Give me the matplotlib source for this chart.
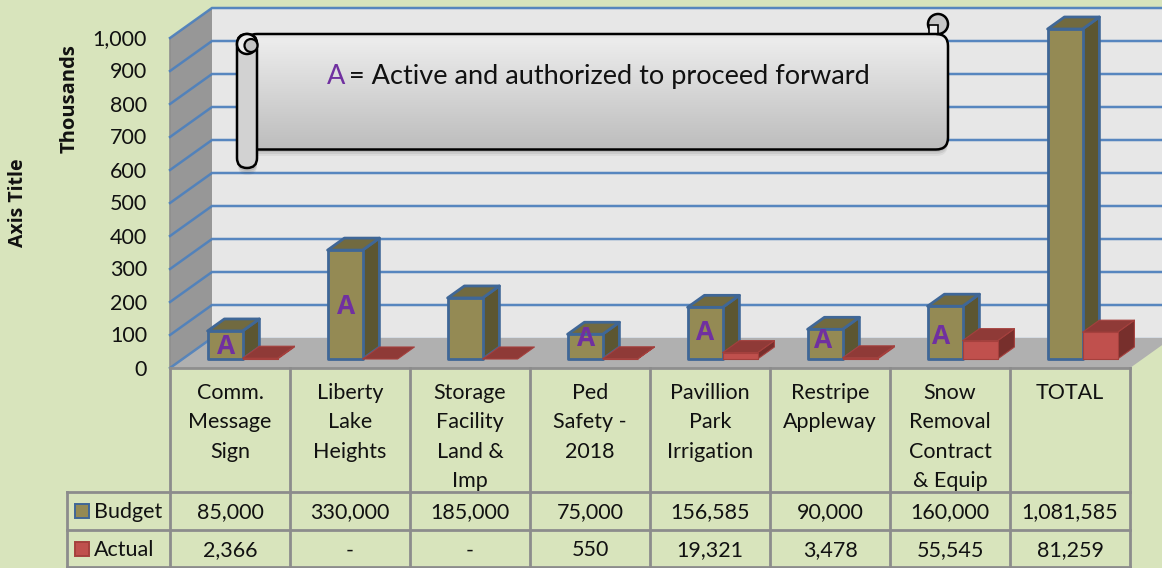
import numpy as np
import matplotlib
matplotlib.use("Agg")
import matplotlib.pyplot as plt
from matplotlib.patches import Polygon, Circle, FancyBboxPatch, Rectangle
from matplotlib.transforms import Affine2D

categories = ["Comm.\nMessage\nSign", "Liberty\nLake\nHeights", "Storage\nFacility\nLand &\nImp",
              "Ped\nSafety -\n2018", "Pavillion\nPark\nIrrigation", "Restripe\nAppleway",
              "Snow\nRemoval\nContract\n& Equip", "TOTAL"]
budget = [85000, 330000, 185000, 75000, 156585, 90000, 160000, 1081585]
actual = [2366, 0, 0, 550, 19321, 3478, 55545, 81259]
yticks = [0, 100, 200, 300, 400, 500, 600, 700, 800, 900, 1000]

W, H = 1162, 568
BG = "#D8E4BC"
GRID = "#4F81BD"
TBL = "#8C8C8C"
FONT = "Lato"
BOLD = "Open Sans"
FS = 15.5
plt.rcParams["font.family"] = [FONT, "DejaVu Sans"]

fig = plt.figure(figsize=(W / 100, H / 100), dpi=100, facecolor=BG)
ax = fig.add_axes([170 / W, (H - 368) / H, 960 / W, 330 / H])
ax.axis("off")
YMAX = 1000000
px = Affine2D().scale(1, -1).translate(0, H)   # pixel-layout transform

# depth vector of the 3-D box, in data units
DX = 42 / 120
DY = 30 / 330 * YMAX
BAR_W = 35 / 120


def proj(x, y, d):
    return (x + d * DX, y + d * DY)


def poly(points, **kw):
    kw.setdefault("clip_on", False)
    p = Polygon(points, closed=True, **kw)
    ax.add_patch(p)
    return p


# walls and floor
poly([proj(0, 0, 0), proj(0, YMAX, 0), proj(0, YMAX, 1), proj(0, 0, 1)], fc="#979797", ec="none", zorder=1)
poly([proj(0, 0, 1), proj(0, YMAX, 1), proj(8, YMAX, 1), proj(8, 0, 1)], fc="#E7E7E7", ec="none", zorder=1)
poly([proj(0, 0, 0), proj(0, 0, 1), proj(8, 0, 1), proj(8, 0, 0)], fc="#B0B0B0", ec="none", zorder=2)

# gridlines
for v in yticks:
    val = v * 1000
    xs, ys = zip(proj(0, val, 0), proj(0, val, 1), proj(8, val, 1))
    if v == 0:
        ax.plot(xs[:2], ys[:2], color=GRID, lw=1.8, clip_on=False, zorder=3, alpha=0.9)
        ax.plot(xs[1:], ys[1:], color=GRID, lw=1.0, clip_on=False, zorder=1.5, alpha=0.6)
    else:
        ax.plot(xs, ys, color=GRID, lw=1.8, clip_on=False, zorder=1.5, alpha=0.95,
                solid_joinstyle="miter")
ax.plot([0, 8], [0, 0], color="#8E8E8E", lw=2, clip_on=False, zorder=3)
ax.plot([0, 0], [0, YMAX], color="#8E8E8E", lw=1.2, clip_on=False, zorder=1.2)


def box(x0, value, front, top, side, edge, lw, z):
    h = min(value, YMAX)
    x1 = x0 + BAR_W
    d0, d1 = 0.3, 0.7
    if h > 0:
        poly([proj(x1, 0, d0), proj(x1, h, d0), proj(x1, h, d1), proj(x1, 0, d1)],
             fc=side, ec=edge, lw=lw, zorder=z, joinstyle="round")
    poly([proj(x0, h, d0), proj(x1, h, d0), proj(x1, h, d1), proj(x0, h, d1)],
         fc=top, ec=edge, lw=lw, zorder=z, joinstyle="round")
    if h > 0:
        poly([proj(x0, 0, d0), proj(x1, 0, d0), proj(x1, h, d0), proj(x0, h, d0)],
             fc=front, ec=edge, lw=lw, zorder=z, joinstyle="round")


for i, (b, a) in enumerate(zip(budget, actual)):
    box(i + 0.5 - BAR_W, b, "#948A54", "#716A40", "#5C5632", "#3F6797", 2.0, 4 + i * 0.01)
    box(i + 0.5, a, "#C0504D", "#8F3A37", "#772F2C", "#A5403D", 0.8, 4.5 + i * 0.01)

# y tick labels
for v in yticks:
    ax.annotate(f"{v:,}", (0, v * 1000), xytext=(-23, -1.5), textcoords="offset pixels",
                ha="right", va="center", fontsize=FS, color="#111111", annotation_clip=False, zorder=6)

# purple "A" markers
a_marks = [(226, 346), (346, 307), (586, 338), (705, 333), (823, 341), (941, 337)]
for x, y in a_marks:
    ax.text(x, y, "A", transform=px, ha="center", va="center", fontsize=19, fontweight="bold",
            family=BOLD, color="#7030A0", zorder=7)

# axis titles
ax.text(69.5, 99, "Thousands", transform=px, rotation=90, ha="center", va="center",
        fontsize=14.5, fontweight="bold", family=BOLD, color="#111111")
ax.text(18, 203, "Axis Title", transform=px, rotation=90, ha="center", va="center",
        fontsize=14, fontweight="bold", family=BOLD, color="#111111")

# data table
for k in range(9):
    xp = 170 + 120 * k
    ax.plot([xp, xp], [368, 568], transform=px, color=TBL, lw=2, clip_on=False, zorder=3)
ax.plot([67, 67], [491.5, 568], transform=px, color=TBL, lw=2, clip_on=False, zorder=3)
for yp in (491.5, 530, 567):
    ax.plot([67, 1130], [yp, yp], transform=px, color=TBL, lw=2, clip_on=False, zorder=3)


def cell(v):
    return f"{v:,}" if v else "-"


for i, c in enumerate(categories):
    xc = 230 + 120 * i
    ax.text(xc, 383, c, transform=px, ha="center", va="top", fontsize=FS, linespacing=1.58,
            color="#111111", zorder=6)
    ax.text(xc, 512.5, cell(budget[i]), transform=px, ha="center", va="center", fontsize=FS,
            color="#111111", zorder=6)
    ax.text(xc, 550.5, cell(actual[i]), transform=px, ha="center", va="center", fontsize=FS,
            color="#111111", zorder=6)

ax.add_patch(Rectangle((74.5, 504), 14, 14, transform=px, fc="#948A54", ec="#3F6797", lw=1.4, clip_on=False))
ax.add_patch(Rectangle((74.5, 542), 14, 14, transform=px, fc="#C0504D", ec="#A5403D", lw=1.4, clip_on=False))
ax.text(94, 512.5, "Budget", transform=px, ha="left", va="center", fontsize=FS, color="#111111")
ax.text(94, 550.5, "Actual", transform=px, ha="left", va="center", fontsize=FS, color="#111111")

# scroll callout
for off, al in ((7, 0.05), (5, 0.07), (3, 0.09)):
    ax.add_patch(FancyBboxPatch((240, 37 + off), 708, 112, boxstyle="round,pad=0,rounding_size=12",
                                transform=px, fc="black", ec="none", alpha=al, zorder=8, clip_on=False))
    ax.add_patch(FancyBboxPatch((238, 60 + off), 19, 108, boxstyle="round,pad=0,rounding_size=9",
                                transform=px, fc="black", ec="none", alpha=al, zorder=8, clip_on=False))
grad = np.linspace(0, 1, 128).reshape(-1, 1)
cmap = matplotlib.colors.LinearSegmentedColormap.from_list("g", ["#EFEFEF", "#BDBDBD"])

body = FancyBboxPatch((245, 34), 703, 115.5, boxstyle="round,pad=0,rounding_size=12", transform=px,
                      fc="none", ec="black", lw=1.8, zorder=10, clip_on=False)
ax.add_patch(body)
im = ax.imshow(grad, extent=(245, 948, 149.5, 34), aspect="auto", cmap=cmap, transform=px, zorder=9,
               clip_on=True)
im.set_clip_path(body)

roller = FancyBboxPatch((237, 34), 20, 134, boxstyle="round,pad=0,rounding_size=10", transform=px,
                        fc="#D2D2D2", ec="black", lw=1.8, zorder=11, clip_on=False)
ax.add_patch(roller)
ax.add_patch(Circle((247, 44), 10, transform=px, fc="#EDEDED", ec="black", lw=1.8, zorder=12, clip_on=False))
ax.add_patch(Circle((251, 45.5), 6.5, transform=px, fc="#C4C4C4", ec="black", lw=1.6, zorder=13, clip_on=False))
# right curl
ax.add_patch(Circle((938, 24), 10, transform=px, fc="#C6C6C6", ec="black", lw=1.8, zorder=8.5, clip_on=False))
ax.add_patch(Rectangle((929, 25), 9, 9, transform=px, fc="#EDEDED", ec="black", lw=1.2, zorder=8.6, clip_on=False))

ax.text(327, 76.5, "A", transform=px, ha="left", va="center", fontsize=19.5, color="#7030A0", zorder=14)
ax.text(349, 76.5, "= Active and authorized to proceed forward", transform=px, ha="left", va="center",
        fontsize=19.5, color="#111111", zorder=14)

ax.set_xlim(0, 8)
ax.set_ylim(0, YMAX)
fig.savefig("out.png", dpi=100, facecolor=BG)
